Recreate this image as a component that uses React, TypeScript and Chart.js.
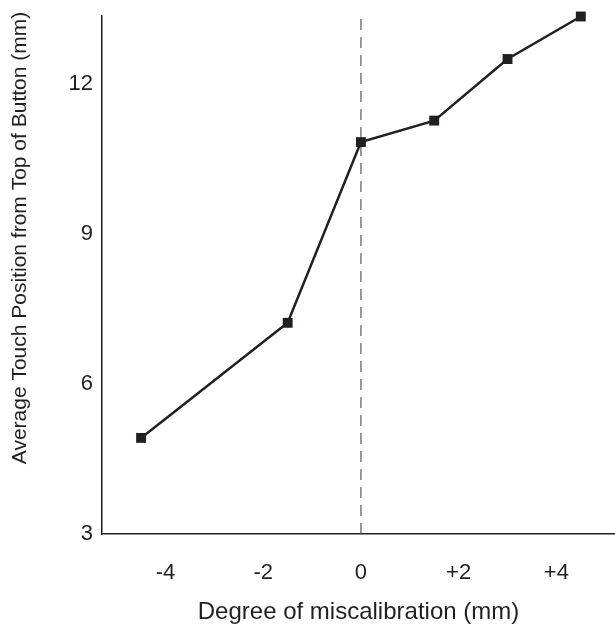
import React, { useEffect, useRef } from "react";
import { Chart, registerables } from "chart.js";

Chart.register(...registerables);

const xValues = [-4.5, -1.5, 0, 1.5, 3, 4.5];
const yValues = [4.92, 7.22, 10.83, 11.26, 12.49, 13.34];
const xTicks = [-4, -2, 0, 2, 4];
const xTickLabels = ["-4", "-2", "0", "+2", "+4"];
const yTicks = [3, 6, 9, 12];
const xTitle = "Degree of miscalibration (mm)";
const yTitle = "Average Touch Position from Top of Button (mm)";
const refLineX = 0;

const INK = "#231f20";
const FONT = "'Liberation Sans', Arial, Helvetica, sans-serif";

export default function App() {
  const ref = useRef<HTMLCanvasElement | null>(null);

  useEffect(() => {
    if (!ref.current) return;
    const yMin = 3;
    const yMax = 13.35;
    const yTitlePlugin = {
      id: "yTitle",
      afterDraw(chart: any) {
        const ctx = chart.ctx;
        ctx.save();
        ctx.translate(20, 238);
        ctx.rotate(-Math.PI / 2);
        ctx.font = `21px ${FONT}`;
        ctx.fillStyle = INK;
        ctx.textAlign = "center";
        ctx.textBaseline = "middle";
        ctx.fillText(yTitle, 0, 0);
        ctx.restore();
      },
    };
    const chart = new Chart(ref.current, {
      type: "scatter",
      data: {
        datasets: [
          {
            data: xValues.map((x, i) => ({ x, y: yValues[i] })),
            showLine: true,
            borderColor: INK,
            backgroundColor: INK,
            borderWidth: 2.5,
            pointStyle: "rect",
            pointRadius: 7,
            pointHoverRadius: 7,
            pointBorderWidth: 0,
            clip: false as any,
            order: 0,
          },
          {
            data: [
              { x: refLineX, y: yMin },
              { x: refLineX, y: yMax },
            ],
            showLine: true,
            borderColor: "#3a3a3a",
            borderWidth: 1,
            borderDash: [11, 7],
            pointRadius: 0,
            pointHoverRadius: 0,
            order: 1,
          },
        ],
      },
      options: {
        animation: false,
        responsive: false,
        maintainAspectRatio: false,
        layout: { autoPadding: false, padding: { top: 16, right: 0, left: 0, bottom: 0 } },
        plugins: {
          legend: { display: false },
          tooltip: { enabled: false },
        },
        scales: {
          x: {
            type: "linear",
            min: -5.3,
            max: 5.2,
            grid: { display: false, drawTicks: false },
            border: { display: true, color: INK, width: 1.5 },
            afterBuildTicks: (scale: any) => {
              scale.ticks = xTicks.map((v) => ({ value: v }));
            },
            afterFit: (scale: any) => {
              scale.height = 93;
              scale.paddingLeft = 0;
              scale.paddingRight = 0;
            },
            ticks: {
              padding: 26,
              color: INK,
              font: { family: FONT, size: 22 },
              maxRotation: 0,
              callback: (v: any) => {
                const i = xTicks.indexOf(Number(v));
                return i >= 0 ? xTickLabels[i] : "";
              },
            },
            title: {
              display: true,
              text: xTitle,
              color: INK,
              font: { family: FONT, size: 24 },
              padding: { top: 0, bottom: 0 },
            },
          },
          y: {
            type: "linear",
            min: yMin,
            max: yMax,
            grid: { display: false, drawTicks: false },
            border: { display: true, color: INK, width: 1.5 },
            afterBuildTicks: (scale: any) => {
              scale.ticks = yTicks.map((v) => ({ value: v }));
            },
            afterFit: (scale: any) => {
              scale.width = 102;
              scale.paddingTop = 0;
              scale.paddingBottom = 0;
            },
            ticks: {
              padding: 9,
              color: INK,
              font: { family: FONT, size: 22 },
              callback: (v: any) => String(v),
            },
          },
        },
      },
      plugins: [yTitlePlugin],
    } as any);
    return () => chart.destroy();
  }, []);

  return (
    <div style={{ position: "fixed", left: 0, top: 0, width: 615, height: 627, background: "#fff" }}>
      <canvas ref={ref} width={615} height={627} style={{ width: 615, height: 627 }} />
    </div>
  );
}
